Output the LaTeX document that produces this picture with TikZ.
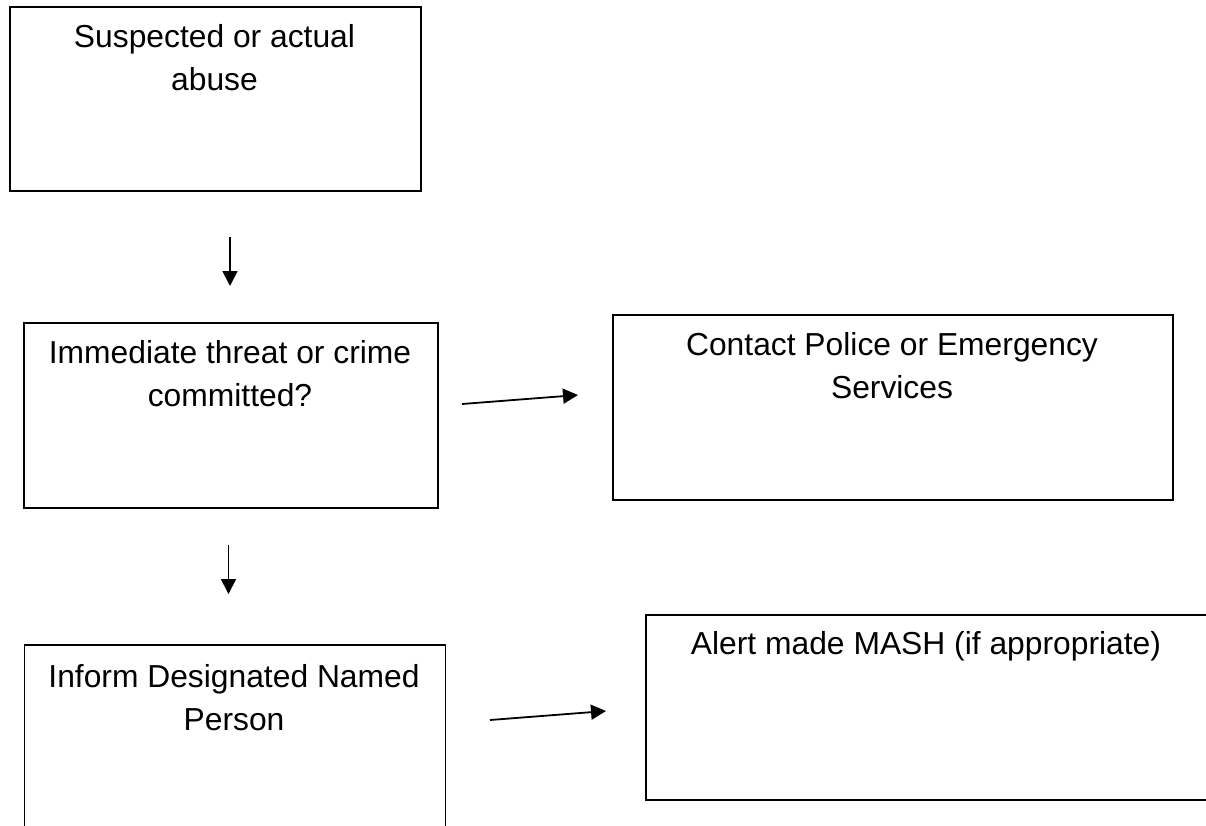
\documentclass[tikz,border=0pt]{standalone}
\usepackage{fontspec}
\setmainfont{Liberation Sans}
\usetikzlibrary{arrows.meta}
\tikzset{
  box/.style={draw=black, line width=1.6pt, rectangle, inner sep=0pt, anchor=north west},
  lbl/.style={align=center, inner sep=0pt, anchor=north, font=\fontsize{31.8pt}{43pt}\selectfont},
  arr/.style={line width=1.8pt, -{Triangle[length=15pt,width=15pt]}}
}
\begin{document}
\begin{tikzpicture}[x=1pt,y=-1pt]
\useasboundingbox (0,0) rectangle (1206,825);
% boxes
\node[box, minimum width=411pt, minimum height=184pt] (b1) at (9,6) {};
\node[box, minimum width=414pt, minimum height=185pt] (b2) at (23,322) {};
\node[box, minimum width=560pt, minimum height=185pt] (b3) at (612,314) {};
\node[box, minimum width=421pt, minimum height=185pt] (b4) at (23.5,644) {};
\node[box, minimum width=563pt, minimum height=185pt] (b5) at (645,614) {};
% texts
\node[lbl] (t1) at (214.5,24) {Suspected or actual\\abuse};
\node[lbl] (t2) at (230,340) {Immediate threat or crime\\committed?};
\node[lbl] (t3) at (892,332) {Contact Police or Emergency\\Services};
\node[lbl] (t4) at (234,664) {Inform Designated Named\\Person};
\node[lbl] (t5) at (926,631) {Alert made MASH (if appropriate)};
% arrow endpoints
\coordinate (a1s) at (230,237);
\coordinate (a1e) at (230,286);
\coordinate (a2s) at (228.5,545);
\coordinate (a2e) at (228.5,594);
\coordinate (a3s) at (462,404);
\coordinate (a3e) at (578,395);
\coordinate (a4s) at (490,720);
\coordinate (a4e) at (606,711);
\draw[arr] (a1s) -- (a1e);
\draw[arr] (a2s) -- (a2e);
\draw[arr] (a3s) -- (a3e);
\draw[arr] (a4s) -- (a4e);
\end{tikzpicture}
\end{document}
